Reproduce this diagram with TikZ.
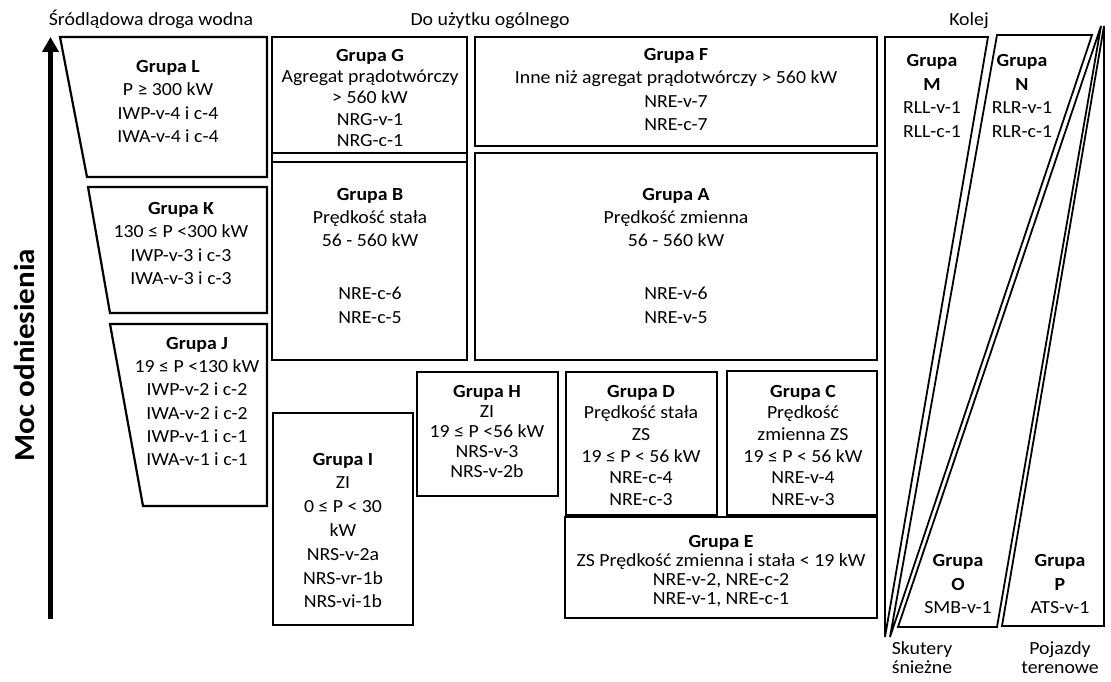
\documentclass[tikz,border=0pt]{standalone}
\usepackage{fontspec}
\setmainfont{Carlito}[FakeStretch=1.07]
\usetikzlibrary{arrows.meta}
\begin{document}
\begin{tikzpicture}[x=1pt,y=-1pt,
  shapeline/.style={draw=black, line width=2.2pt, line join=miter},
  slimline/.style={draw=black, line width=1.8pt, line join=miter},
  grp/.style={align=center, inner sep=0pt, font=\fontsize{18.5}{23.3}\selectfont,
    execute at begin node=\strut, execute at end node=\strut},
  grpi/.style={grp, font=\fontsize{18.5}{23.8}\selectfont},
  grpg/.style={grp, font=\fontsize{18.5}{21.3}\selectfont},
  grpd/.style={grp, font=\fontsize{18.5}{21.7}\selectfont},
  grph/.style={grp, font=\fontsize{18.5}{20}\selectfont},
  grpe/.style={grp, font=\fontsize{18.5}{19}\selectfont},
  head/.style={font=\fontsize{18.5}{22}\selectfont, inner sep=0pt, anchor=base},
]
\fill[white] (0,0) rectangle (1111,682);
\useasboundingbox (0,0) rectangle (1111,682);

% axis
\coordinate (abot) at (50.5,619);
\coordinate (atop) at (50.5,37);
\draw[line width=5pt, -{Triangle[width=16pt,length=15pt]}] (abot) -- (atop);
\node[rotate=90, font=\bfseries\fontsize{29}{30}\selectfont, inner sep=0pt] (axis) at (24,355) {Moc odniesienia};

% headings
\node[head] (hW) at (151,26) {Śródlądowa droga wodna};
\node[head] (hD) at (490,26) {Do użytku ogólnego};
\node[head] (hK) at (969,26) {Kolej};
\node[grpe] (hS) at (922,660) {Skutery\\śnieżne};
\node[grpe] (hP) at (1060,660) {Pojazdy\\terenowe};

% inland waterway
\path[shapeline] (60,37) -- (267,37) -- (267,177) -- (87,177) -- cycle;
\path[shapeline] (88,187) -- (267,187) -- (267,313) -- (110,313) -- cycle;
\path[shapeline] (110,324) -- (267,324) -- (267,506) -- (143,506) -- cycle;
\node[grp] (tL) at (168,105) {\textbf{Grupa L}\\P ≥ 300 kW\\IWP-v-4 i c-4\\IWA-v-4 i c-4};
\node[grp] (tK) at (181,247) {\textbf{Grupa K}\\130 ≤ P <300 kW\\IWP-v-3 i c-3\\IWA-v-3 i c-3};
\node[grp] (tJ) at (197,405) {\textbf{Grupa J}\\19 ≤ P <130 kW\\IWP-v-2 i c-2\\IWA-v-2 i c-2\\IWP-v-1 i c-1\\IWA-v-1 i c-1};

% general purpose
\path[shapeline] (272,37) rectangle (467,162);
\path[shapeline] (272,153) rectangle (467,360);
\path[shapeline] (475,37) rectangle (877,146);
\path[shapeline] (475,153) rectangle (877,360);
\path[shapeline] (417,372) rectangle (558,496);
\path[shapeline] (566,372) rectangle (717,515);
\path[shapeline] (727,371) rectangle (877,515);
\path[shapeline] (565,517) rectangle (877,618);
\path[shapeline] (273,413) rectangle (413,625);

\node[grpg] (tG) at (370,101) {\textbf{Grupa G}\\Agregat prądotwórczy\\> 560 kW\\NRG-v-1\\NRG-c-1};
\node[grp] (tF) at (676,93) {\textbf{Grupa F}\\Inne niż agregat prądotwórczy > 560 kW\\NRE-v-7\\NRE-c-7};
\node[grp] (tB) at (370,259) {\textbf{Grupa B}\\Prędkość stała\\56 - 560 kW\\[29.7pt]NRE-c-6\\NRE-c-5};
\node[grp] (tA) at (676,259) {\textbf{Grupa A}\\Prędkość zmienna\\56 - 560 kW\\[29.7pt]NRE-v-6\\NRE-v-5};
\node[grph] (tH) at (487,434.5) {\textbf{Grupa H}\\ZI\\19 ≤ P <56 kW\\NRS-v-3\\NRS-v-2b};
\node[grpd] (tD) at (641,448.5) {\textbf{Grupa D}\\Prędkość stała\\ZS\\19 ≤ P < 56 kW\\NRE-c-4\\NRE-c-3};
\node[grpd] (tC) at (803,448.5) {\textbf{Grupa C}\\Prędkość\\zmienna ZS\\19 ≤ P < 56 kW\\NRE-v-4\\NRE-v-3};
\node[grpe] (tE) at (721,573) {\textbf{Grupa E}\\ZS Prędkość zmienna i stała < 19 kW\\NRE-v-2, NRE-c-2\\NRE-v-1, NRE-c-1};
\node[grpi] (tI) at (343,534) {\textbf{Grupa I}\\ZI\\0 ≤ P < 30\\kW\\NRS-v-2a\\NRS-vr-1b\\NRS-vi-1b};

% rail, snowmobiles, ATVs
\path[slimline] (885,37) -- (988,37) -- (885,637) -- cycle;
\path[slimline] (997,35) -- (1092,35) -- (890,637) -- cycle;
\path[slimline] (1101,26) -- (898,627) -- (997,627) -- cycle;
\path[slimline] (1104,26) -- (1104,626) -- (1002,626) -- cycle;
\node[grpi] (tM) at (932,99.5) {\textbf{Grupa}\\\textbf{M}\\RLL-v-1\\RLL-c-1};
\node[grpi] (tN) at (1022,99.5) {\textbf{Grupa}\\\textbf{N}\\RLR-v-1\\RLR-c-1};
\node[grp] (tO) at (958,587.5) {\textbf{Grupa}\\\textbf{O}\\SMB-v-1};
\node[grp] (tP) at (1060,587.5) {\textbf{Grupa}\\\textbf{P}\\ATS-v-1};
\end{tikzpicture}
\end{document}
